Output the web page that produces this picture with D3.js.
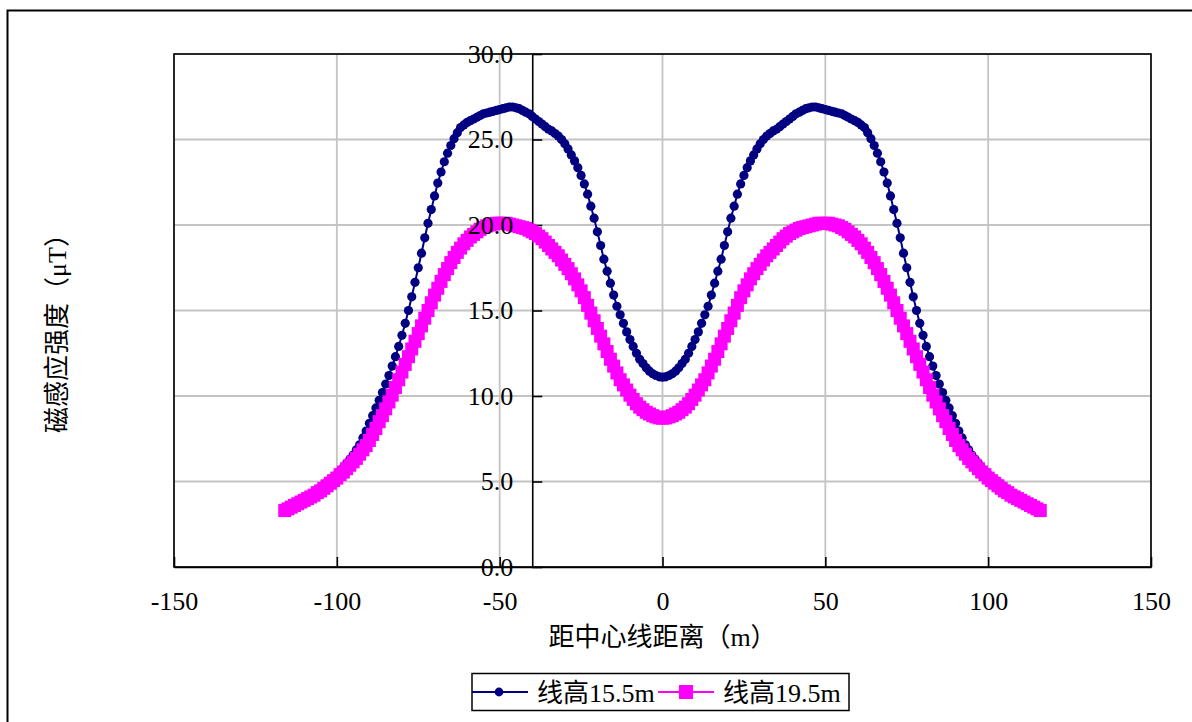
<!DOCTYPE html>
<html>
<head>
<meta charset="UTF-8">
<script src="https://d3js.org/d3.v7.min.js"></script>
<style>
  body { margin: 0; background: #fff; }
  text { font-family: "Liberation Serif", "Noto Sans CJK SC", serif; }
</style>
</head>
<body>
<div id="chart"></div>
<script>
// distance from centre line (m), 1 m step
var distances = d3.range(-116, 117);

// line height 15.5 m (uT)
var field155 = [
  3.4,3.5,3.6,3.7,3.8,3.9,4.0,
  4.1,4.25,4.35,4.5,4.65,4.8,4.95,5.1,5.25,5.4,
  5.6,5.8,6.05,6.3,6.55,6.85,7.15,7.55,7.95,8.4,
  8.85,9.3,9.75,10.2,10.7,11.2,11.75,12.3,12.9,13.55,
  14.25,15.0,15.8,16.65,17.5,18.35,19.25,20.1,20.9,21.7,
  22.45,23.1,23.7,24.2,24.65,25.05,25.4,25.7,25.85,26.0,
  26.1,26.2,26.3,26.4,26.5,26.55,26.6,26.65,26.7,26.75,
  26.8,26.85,26.9,26.9,26.85,26.8,26.7,26.6,26.5,26.35,
  26.2,26.05,25.9,25.75,25.6,25.5,25.35,25.2,25.0,24.75,
  24.45,24.1,23.75,23.35,22.9,22.4,21.8,21.1,20.4,19.6,
  18.8,18.0,17.3,16.6,15.9,15.25,14.75,14.25,13.75,13.3,
  12.9,12.5,12.15,11.9,11.65,11.45,11.3,11.2,11.12,
  11.1,
  11.12,11.2,11.3,11.45,11.65,11.9,12.15,12.5,12.9,
  13.3,13.75,14.25,14.75,15.25,15.9,16.6,17.3,18.0,18.8,
  19.6,20.4,21.1,21.8,22.4,22.9,23.35,23.75,24.1,24.45,
  24.75,25.0,25.2,25.35,25.5,25.6,25.75,25.9,26.05,26.2,
  26.35,26.5,26.6,26.7,26.8,26.85,26.9,26.9,26.85,26.8,
  26.75,26.7,26.65,26.6,26.55,26.5,26.4,26.3,26.2,26.1,
  26.0,25.85,25.7,25.4,25.05,24.65,24.2,23.7,23.1,22.45,
  21.7,20.9,20.1,19.25,18.35,17.5,16.65,15.8,15.0,14.25,
  13.55,12.9,12.3,11.75,11.2,10.7,10.2,9.75,9.3,8.85,
  8.4,7.95,7.55,7.15,6.85,6.55,6.3,6.05,5.8,5.6,
  5.4,5.25,5.1,4.95,4.8,4.65,4.5,4.35,4.25,4.1,
  4.0,3.9,3.8,3.7,3.6,3.5,3.4
];

// line height 19.5 m (uT)
var field195 = [
  3.3,3.4,3.5,3.6,3.7,3.8,3.9,
  4.0,4.1,4.2,4.35,4.45,4.6,4.75,4.9,5.05,5.2,
  5.4,5.55,5.75,5.95,6.15,6.35,6.6,6.85,7.1,7.4,
  7.75,8.1,8.5,8.85,9.25,9.65,10.05,10.5,10.95,11.4,
  11.85,12.3,12.75,13.2,13.65,14.1,14.55,15.0,15.45,15.9,
  16.3,16.7,17.1,17.45,17.8,18.1,18.4,18.65,18.9,19.1,
  19.3,19.45,19.6,19.75,19.85,19.95,20.0,20.05,20.1,20.1,
  20.1,20.1,20.05,20.0,19.95,19.9,19.85,19.8,19.7,19.6,
  19.5,19.35,19.2,19.0,18.8,18.6,18.4,18.2,17.95,17.7,
  17.45,17.15,16.85,16.5,16.15,15.75,15.3,14.85,14.4,13.95,
  13.5,13.05,12.6,12.15,11.75,11.35,10.95,10.65,10.35,10.05,
  9.8,9.55,9.35,9.2,9.05,8.95,8.85,8.78,8.72,
  8.7,
  8.72,8.78,8.85,8.95,9.05,9.2,9.35,9.55,9.8,
  10.05,10.35,10.65,10.95,11.35,11.75,12.15,12.6,13.05,13.5,
  13.95,14.4,14.85,15.3,15.75,16.15,16.5,16.85,17.15,17.45,
  17.7,17.95,18.2,18.4,18.6,18.8,19.0,19.2,19.35,19.5,
  19.6,19.7,19.8,19.85,19.9,19.95,20.0,20.05,20.1,20.1,
  20.1,20.1,20.05,20.0,19.95,19.85,19.75,19.6,19.45,19.3,
  19.1,18.9,18.65,18.4,18.1,17.8,17.45,17.1,16.7,16.3,
  15.9,15.45,15.0,14.55,14.1,13.65,13.2,12.75,12.3,11.85,
  11.4,10.95,10.5,10.05,9.65,9.25,8.85,8.5,8.1,7.75,
  7.4,7.1,6.85,6.6,6.35,6.15,5.95,5.75,5.55,5.4,
  5.2,5.05,4.9,4.75,4.6,4.45,4.35,4.2,4.1,4.0,
  3.9,3.8,3.7,3.6,3.5,3.4,3.3
];

var seriesNames = ["线高15.5m", "线高19.5m"];
var xTicks = [-150, -100, -50, 0, 50, 100, 150];
var yTicks = [0, 5, 10, 15, 20, 25, 30];
var xTitle = "距中心线距离（m）";
var yTitle = "磁感应强度（μT）";

(function() {
  var W = 1192, H = 722;
  var pLeft = 174, pRight = 1151, pTop = 54, pBottom = 567;
  var fontSize = 26;

  var svg = d3.select("#chart").append("svg")
    .attr("width", W).attr("height", H);

  svg.append("rect").attr("width", W).attr("height", H).attr("fill", "#fff");
  // outer chart frame (runs off the right and bottom edges)
  svg.append("rect")
    .attr("x", 7.5).attr("y", 10.5)
    .attr("width", W).attr("height", H)
    .attr("fill", "none").attr("stroke", "#000").attr("stroke-width", 2);

  var x = d3.scaleLinear().domain([-150, 150]).range([pLeft, pRight]);
  var y = d3.scaleLinear().domain([0, 30]).range([pBottom, pTop]);

  // gridlines
  svg.append("g").selectAll("line").data(xTicks).join("line")
    .attr("x1", d => x(d)).attr("x2", d => x(d))
    .attr("y1", pTop).attr("y2", pBottom)
    .attr("stroke", "#c4c4c4").attr("stroke-width", 1.8);
  svg.append("g").selectAll("line").data(yTicks).join("line")
    .attr("x1", pLeft).attr("x2", pRight)
    .attr("y1", d => y(d)).attr("y2", d => y(d))
    .attr("stroke", "#c4c4c4").attr("stroke-width", 1.8);

  // plot border
  svg.append("rect")
    .attr("x", pLeft).attr("y", pTop)
    .attr("width", pRight - pLeft).attr("height", pBottom - pTop)
    .attr("fill", "none").attr("stroke", "#000").attr("stroke-width", 1.6);

  var xAxis = d3.axisBottom(x).tickValues(xTicks).tickSizeInner(-10).tickSizeOuter(0)
    .tickPadding(25).tickFormat(d => String(d));
  var yAxis = d3.axisLeft(y).tickValues(yTicks).tickSizeInner(-10).tickSizeOuter(0)
    .tickPadding(19).tickFormat(d => d.toFixed(1));

  // axis lines and ticks (under the series)
  var xLines = svg.append("g").attr("transform", "translate(0," + pBottom + ")").call(xAxis);
  var yLines = svg.append("g").attr("transform", "translate(" + x(-40) + ",0)").call(yAxis);
  [xLines, yLines].forEach(function(g) {
    g.selectAll("text").remove();
    g.selectAll("line,path").attr("stroke", "#000").attr("stroke-width", 1.6);
  });

  var pts155 = distances.map((d, i) => [d, field155[i]]);
  var pts195 = distances.map((d, i) => [d, field195[i]]);
  var line = d3.line().x(d => x(d[0])).y(d => y(d[1]));

  // 15.5 m series: navy line with dots
  svg.append("path").datum(pts155).attr("d", line)
    .attr("fill", "none").attr("stroke", "#000080").attr("stroke-width", 2);
  svg.append("g").selectAll("circle").data(pts155).join("circle")
    .attr("cx", d => x(d[0])).attr("cy", d => y(d[1])).attr("r", 4.6)
    .attr("fill", "#000080");

  // 19.5 m series: magenta line with squares
  var sq = 13;
  svg.append("path").datum(pts195).attr("d", line)
    .attr("fill", "none").attr("stroke", "#ff00ff").attr("stroke-width", 2);
  svg.append("g").selectAll("rect").data(pts195).join("rect")
    .attr("x", d => x(d[0]) - sq / 2).attr("y", d => y(d[1]) - sq / 2)
    .attr("width", sq).attr("height", sq).attr("fill", "#ff00ff");

  // tick labels on top
  var xLabels = svg.append("g").attr("transform", "translate(0," + pBottom + ")").call(xAxis);
  var yLabels = svg.append("g").attr("transform", "translate(" + x(-40) + ",0)").call(yAxis);
  [xLabels, yLabels].forEach(function(g) {
    g.selectAll("line,path").remove();
    g.selectAll("text").attr("fill", "#000")
      .style("font-family", "'Liberation Serif', serif").style("font-size", fontSize + "px");
  });

  // axis titles
  svg.append("text")
    .attr("x", (pLeft + pRight) / 2).attr("y", 646)
    .attr("text-anchor", "middle").style("font-size", fontSize + "px")
    .text(xTitle);
  svg.append("text")
    .attr("transform", "translate(66,327) rotate(-90)")
    .attr("text-anchor", "middle").style("font-size", fontSize + "px")
    .text(yTitle);

  // legend
  var lg = svg.append("g");
  lg.append("rect").attr("x", 472).attr("y", 673.5).attr("width", 377).attr("height", 37)
    .attr("fill", "#fff").attr("stroke", "#000").attr("stroke-width", 1.5);
  var legendItems = [
    { name: seriesNames[0], color: "#000080", shape: "circle", x0: 472 },
    { name: seriesNames[1], color: "#ff00ff", shape: "square", x0: 658 }
  ];
  legendItems.forEach(function(it) {
    var cy = 692;
    lg.append("line").attr("x1", it.x0).attr("x2", it.x0 + 56)
      .attr("y1", cy).attr("y2", cy).attr("stroke", it.color).attr("stroke-width", 2);
    if (it.shape === "circle") {
      lg.append("circle").attr("cx", it.x0 + 27).attr("cy", cy).attr("r", 4.4).attr("fill", it.color);
    } else {
      lg.append("rect").attr("x", it.x0 + 28 - 7).attr("y", cy - 7)
        .attr("width", 14).attr("height", 14).attr("fill", it.color);
    }
    lg.append("text").attr("x", it.x0 + 65).attr("y", cy + 9.5)
      .style("font-size", fontSize + "px").text(it.name);
  });
})();
</script>
</body>
</html>
